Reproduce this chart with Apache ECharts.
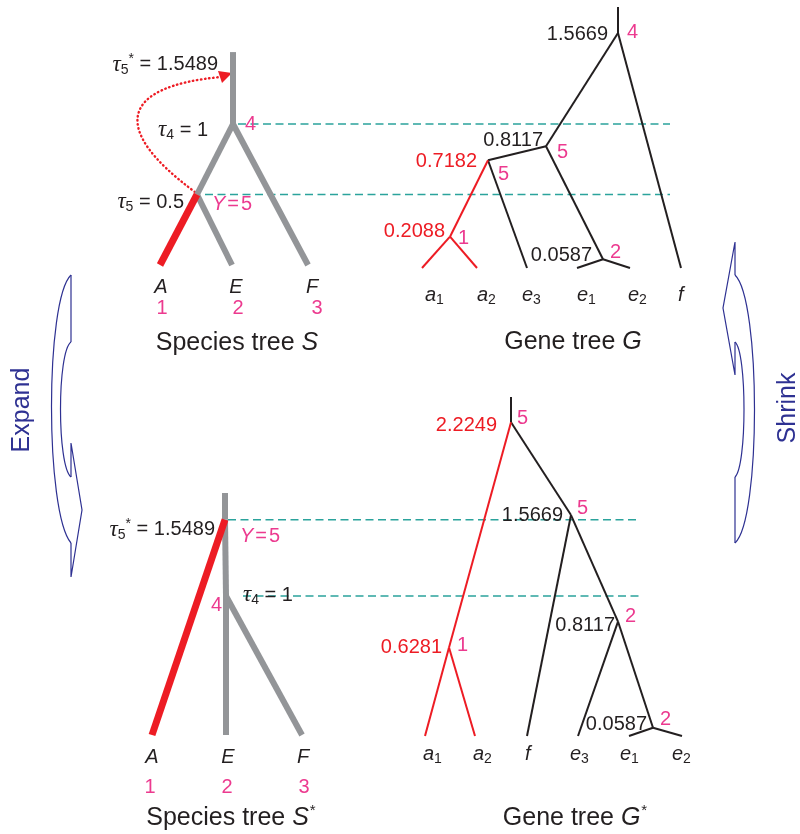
<!DOCTYPE html>
<html><head><meta charset="utf-8">
<script src="https://cdn.jsdelivr.net/npm/echarts@6/dist/echarts.min.js"></script>
<style>html,body{margin:0;padding:0;background:#fff}#c{width:800px;height:834px}</style>
</head><body><div id="c"></div>
<script>
// ======================= DATA =======================
// Species-tree divergence times
const tau5 = 0.5;
const tau4 = 1;
const tau5Star = 1.5489;

// Species tree S (top)
const speciesS_nodes  = ['n4', 'Y', 'A', 'E', 'F'];
const speciesS_parent = [null, 'n4', 'Y', 'Y', 'n4'];
const speciesS_pop    = [4, 5, 1, 2, 3];
const speciesS_tau    = [tau4, tau5, 0, 0, 0];

// Species tree S* (bottom)
const speciesS2_nodes  = ['Y', 'n4', 'A', 'E', 'F'];
const speciesS2_parent = [null, 'Y', 'Y', 'n4', 'n4'];
const speciesS2_pop    = [5, 4, 1, 2, 3];
const speciesS2_tau    = [tau5Star, tau4, 0, 0, 0];

// Gene tree G (top)
const geneG_nodes  = ['r', 'x', 'y', 'a', 'e', 'a1', 'a2', 'e3', 'e1', 'e2', 'f'];
const geneG_parent = [null, 'r', 'x', 'y', 'x', 'a', 'a', 'y', 'e', 'e', 'r'];
const geneG_height = [1.5669, 0.8117, 0.7182, 0.2088, 0.0587, 0, 0, 0, 0, 0, 0];
const geneG_pop    = [4, 5, 5, 1, 2, null, null, null, null, null, null];

// Gene tree G* (bottom)
const geneG2_nodes  = ['r', 'p', 'q', 's', 't', 'a1', 'a2', 'f', 'e3', 'e1', 'e2'];
const geneG2_parent = [null, 'r', 'r', 'q', 's', 'p', 'p', 'q', 's', 't', 't'];
const geneG2_height = [2.2249, 0.6281, 1.5669, 0.8117, 0.0587, 0, 0, 0, 0, 0, 0];
const geneG2_pop    = [5, 1, 5, 2, 2, null, null, null, null, null, null];

// Panel captions
const captions = [
  ['Species tree ', 'S', ''],
  ['Gene tree ', 'G', ''],
  ['Species tree ', 'S', '*'],
  ['Gene tree ', 'G', '*']
];
const arrowWords = ['Expand', 'Shrink'];

// ======================= LAYOUT / STYLE =======================
const C = {red:'#ed1c24', pink:'#ec3a8f', gray:'#939598', teal:'#2ba39c', black:'#231f20', blue:'#2e3192'};
const FONT = '"Liberation Sans", Arial, sans-serif';
const SERIF = '"Liberation Serif", "Times New Roman", serif';
const RICH = {
  n:  {fontFamily:FONT, fontSize:20, lineHeight:24},
  eq: {fontFamily:FONT, fontSize:20, lineHeight:24, padding:[0, 2, 0, 2]},
  i:  {fontFamily:FONT, fontSize:20, lineHeight:24, fontStyle:'italic'},
  t:  {fontFamily:SERIF, fontSize:23, lineHeight:24, fontStyle:'italic'},
  sub:{fontFamily:FONT, fontSize:14, lineHeight:14, padding:[11, 0, 0, 0]},
  sup:{fontFamily:FONT, fontSize:14, lineHeight:14, padding:[0, 0, 11, 0]},
  tn: {fontFamily:FONT, fontSize:25, lineHeight:30},
  ti: {fontFamily:FONT, fontSize:25, lineHeight:30, fontStyle:'italic'},
  ts: {fontFamily:FONT, fontSize:15, lineHeight:15, padding:[0, 0, 14, 1]}
};

// pixel placement of each panel's height axis: base = y of height 0, scale = px per unit
const PANELS = [
  {base:265, scale:141, maxH:1.85},
  {base:268, scale:150, maxH:1.78},
  {base:735, scale:139, maxH:1.80},
  {base:736, scale:141, maxH:2.45}
];

const LAYOUT_S = {
  grid:0, x:{n4:233, Y:197, A:160, E:232, F:308}, stemTop:1.51,
  tauOff:{n4:[-25, 6, 'right'], Y:[-13, 7.5, 'right']},
  popOff:{n4:[12, 0, 'left'], Y:[15, 10, 'left']},
  taxonDx:{A:1, E:4, F:4}, taxonDy:22, idDx:{A:2, E:6, F:9}, idDy:43,
  dashes:{n4:[238, 670], Y:[205, 670]},
  starOff:[-15, 12.5]
};
const LAYOUT_S2 = {
  grid:2, x:{Y:225, n4:226, A:152, E:226, F:302}, stemTop:1.741,
  tauOff:{Y:[-10, 10, 'right'], n4:[17, -1, 'left']},
  popOff:{Y:[15, 17, 'left'], n4:[-4, 9, 'right']},
  taxonDx:{A:0, E:2, F:1}, taxonDy:22, idDx:{A:-2, E:1, F:2}, idDy:52,
  dashes:{Y:[228, 637], n4:[243, 643]}
};
const LAYOUT_G = {
  grid:1, x:{r:618, x:546, y:488, a:450, e:603, a1:422, a2:477, e3:527, e1:577, e2:630, f:681}, stemTop:1.74,
  valOff:{r:[-10, 2], x:[-3, -6], y:[-11, 1], a:[-5, -5], e:[-11, -4]},
  popOff:{r:[9, 0], x:[11, 6], y:[10, 14], a:[8, 2], e:[7, -7]},
  tipX:{a1:425, a2:477, e3:522, e1:577, e2:628, f:678}, tipDy:27
};
const LAYOUT_G2 = {
  grid:3, x:{r:511, p:449, q:571, s:618, t:653, a1:425, a2:475, f:527, e3:578, e1:629, e2:682}, stemTop:2.404,
  valOff:{r:[-14, 3], q:[-8, 0], s:[-3, 3.5], p:[-7, 0], t:[-6, -3.7]},
  popOff:{r:[6, -4], q:[6, -7], s:[7, -4.6], p:[8, -2.4], t:[7, -8.7]},
  tipX:{a1:423, a2:473, f:525, e3:570, e1:620, e2:672}, tipDy:18
};
const CAPTION_POS = [[237, 343], [573, 342], [231, 818], [575, 818]];

// ======================= BUILDERS =======================
function tauText(pop, val, star) {
  return '{t|τ}{sub|' + pop + '}' + (star ? '{sup|*}' : '') + '{n| = ' + val + '}';
}
function tipText(name) {
  const m = name.match(/^([a-z])(\d*)$/);
  return '{i|' + m[1] + '}' + (m[2] ? '{sub|' + m[2] + '}' : '');
}

function speciesParts(nodes, parent, pop, tau, L, withStar) {
  const idx = {}; nodes.forEach((n, i) => idx[n] = i);
  const root = nodes[parent.indexOf(null)];
  const dashes = [], gray = [], red = [], texts = [];
  nodes.forEach((n, i) => {
    if (L.dashes[n]) dashes.push({x1:L.dashes[n][0], h1:tau[i], x2:L.dashes[n][1], h2:tau[i], color:C.teal, width:1.5, dash:[8, 4.5]});
  });
  gray.push({x1:L.x[root], h1:tau[idx[root]], x2:L.x[root], h2:L.stemTop, color:C.gray, width:6});
  nodes.forEach((n, i) => {
    const p = parent[i]; if (!p) return;
    const isA = n === 'A';
    (isA ? red : gray).push({x1:L.x[n], h1:tau[i], x2:L.x[p], h2:tau[idx[p]], color:isA ? C.red : C.gray, width:isA ? 7 : 6});
  });
  nodes.forEach((n, i) => {
    if (tau[i] > 0) {
      const o = L.tauOff[n];
      texts.push({x:L.x[n], h:tau[i], dx:o[0], dy:o[1], align:o[2], color:C.black, text:tauText(pop[i], tau[i], tau[i] === tau5Star)});
      const q = L.popOff[n];
      const ptxt = n.startsWith('n') ? '{n|' + pop[i] + '}' : '{i|' + n + '}{eq|=}{n|' + pop[i] + '}';
      texts.push({x:L.x[n], h:tau[i], dx:q[0], dy:q[1], align:q[2], color:C.pink, text:ptxt});
    } else {
      texts.push({x:L.x[n], h:0, dx:L.taxonDx[n], dy:L.taxonDy, align:'center', color:C.black, text:'{i|' + n + '}'});
      texts.push({x:L.x[n], h:0, dx:L.idDx[n], dy:L.idDy, align:'center', color:C.pink, text:'{n|' + pop[i] + '}'});
    }
  });
  if (withStar) {
    const yPop = pop[idx['Y']];
    texts.push({x:L.x[root], h:L.stemTop, dx:L.starOff[0], dy:L.starOff[1], align:'right', color:C.black, text:tauText(yPop, tau5Star, true)});
  }
  return {segs: dashes.concat(gray, red), texts};
}

function geneParts(nodes, parent, height, pop, L) {
  const idx = {}; nodes.forEach((n, i) => idx[n] = i);
  const anc = id => { const out = []; let c = id; while (c) { out.push(c); c = parent[idx[c]]; } return out; };
  const aTips = nodes.filter(n => /^a\d/.test(n));
  const mrca = anc(aTips[0]).find(a => aTips.every(t => anc(t).includes(a)));
  const inClade = n => anc(n).includes(mrca);
  const redLabel = new Set([mrca, parent[idx[mrca]]]);
  const root = nodes[parent.indexOf(null)];
  const black = [], red = [], texts = [];
  black.push({x1:L.x[root], h1:height[idx[root]], x2:L.x[root], h2:L.stemTop, color:C.black, width:2});
  nodes.forEach((n, i) => {
    const p = parent[i]; if (!p) return;
    const r = inClade(n);
    (r ? red : black).push({x1:L.x[n], h1:height[i], x2:L.x[p], h2:height[idx[p]], color:r ? C.red : C.black, width:2});
  });
  nodes.forEach((n, i) => {
    if (height[i] > 0) {
      const o = L.valOff[n], q = L.popOff[n];
      texts.push({x:L.x[n], h:height[i], dx:o[0], dy:o[1], align:'right', color:redLabel.has(n) ? C.red : C.black, text:'{n|' + height[i].toFixed(4) + '}'});
      texts.push({x:L.x[n], h:height[i], dx:q[0], dy:q[1], align:'left', color:C.pink, text:'{n|' + pop[i] + '}'});
    } else {
      texts.push({x:L.tipX[n], h:0, dx:0, dy:L.tipDy, align:'left', color:C.black, text:tipText(n)});
    }
  });
  return {segs: black.concat(red), texts};
}

function segSeries(gi, segs) {
  return {
    type:'custom', coordinateSystem:'cartesian2d', xAxisIndex:gi, yAxisIndex:gi,
    silent:true, clip:false, z:2, encode:{x:[0, 2], y:[1, 3]},
    data: segs.map(s => [s.x1, s.h1, s.x2, s.h2]),
    renderItem(params, api) {
      const s = segs[params.dataIndex];
      const a = api.coord([api.value(0), api.value(1)]);
      const b = api.coord([api.value(2), api.value(3)]);
      return {type:'line', shape:{x1:a[0], y1:a[1], x2:b[0], y2:b[1]},
        style:{stroke:s.color, lineWidth:s.width, lineDash:s.dash || null, lineCap:'butt', fill:null}};
    }
  };
}
function textSeries(gi, items) {
  return {
    type:'custom', coordinateSystem:'cartesian2d', xAxisIndex:gi, yAxisIndex:gi,
    silent:true, clip:false, z:5, encode:{x:0, y:1},
    data: items.map(t => [t.x, t.h]),
    renderItem(params, api) {
      const t = items[params.dataIndex];
      const p = api.coord([api.value(0), api.value(1)]);
      return {type:'text', x:p[0] + t.dx, y:p[1] + t.dy,
        style:{text:t.text, rich:RICH, fill:t.color, align:t.align, verticalAlign:'middle', font:'20px ' + FONT}};
    }
  };
}

const partS  = speciesParts(speciesS_nodes, speciesS_parent, speciesS_pop, speciesS_tau, LAYOUT_S, true);
const partS2 = speciesParts(speciesS2_nodes, speciesS2_parent, speciesS2_pop, speciesS2_tau, LAYOUT_S2, false);
const partG  = geneParts(geneG_nodes, geneG_parent, geneG_height, geneG_pop, LAYOUT_G);
const partG2 = geneParts(geneG2_nodes, geneG2_parent, geneG2_height, geneG2_pop, LAYOUT_G2);

const parts = [[partS, 0], [partG, 1], [partS2, 2], [partG2, 3]];
const series = [];
parts.forEach(([p, gi]) => { series.push(segSeries(gi, p.segs)); series.push(textSeries(gi, p.texts)); });

// ======================= DECORATIONS =======================
const blueStroke = {stroke:C.blue, lineWidth:1.2, fill:null};
const graphic = [
  // red dotted arrow in species tree S (τ5 moved up to τ5*)
  {type:'bezierCurve', silent:true, shape:{x1:195, y1:192, cpx1:108, cpy1:128, cpx2:122, cpy2:86, x2:221, y2:77},
   style:{stroke:C.red, lineWidth:2.4, lineDash:[0.5, 3.6], lineCap:'round', fill:null}},
  {type:'polygon', silent:true, shape:{points:[[232, 73], [218, 71], [222, 83]]}, style:{fill:C.red}},
  // Expand arrow (left, pointing down)
  {type:'polyline', silent:true, shape:{points:[[71, 275], [71, 342]]}, style:blueStroke},
  {type:'bezierCurve', silent:true, shape:{x1:71, y1:342, cpx1:57, cpy1:352, cpx2:57, cpy2:466, x2:71, y2:477}, style:blueStroke},
  {type:'polyline', silent:true, shape:{points:[[71, 477], [71, 443], [82, 510], [71, 577], [71, 543]]}, style:blueStroke},
  {type:'bezierCurve', silent:true, shape:{x1:71, y1:543, cpx1:45, cpy1:512, cpx2:45, cpy2:300, x2:71, y2:275}, style:blueStroke},
  // Shrink arrow (right, pointing up)
  {type:'polyline', silent:true, shape:{points:[[735, 543], [735, 477]]}, style:blueStroke},
  {type:'bezierCurve', silent:true, shape:{x1:735, y1:477, cpx1:747, cpy1:466, cpx2:747, cpy2:352, x2:735, y2:342}, style:blueStroke},
  {type:'polyline', silent:true, shape:{points:[[735, 342], [735, 375], [723, 308], [735, 242], [735, 275]]}, style:blueStroke},
  {type:'bezierCurve', silent:true, shape:{x1:735, y1:275, cpx1:761, cpy1:300, cpx2:761, cpy2:520, x2:735, y2:543}, style:blueStroke},
  {type:'text', silent:true, x:22.5, y:410, rotation:Math.PI / 2,
   style:{text:arrowWords[0], fill:C.blue, font:'25px ' + FONT, align:'center', verticalAlign:'middle'}},
  {type:'text', silent:true, x:788.5, y:408, rotation:Math.PI / 2,
   style:{text:arrowWords[1], fill:C.blue, font:'25px ' + FONT, align:'center', verticalAlign:'middle'}}
];
captions.forEach((c, k) => {
  graphic.push({type:'text', silent:true, x:CAPTION_POS[k][0], y:CAPTION_POS[k][1],
    style:{text:'{tn|' + c[0] + '}{ti|' + c[1] + '}' + (c[2] ? '{ts|' + c[2] + '}' : ''), rich:RICH,
      fill:C.black, align:'center', verticalAlign:'middle', font:'25px ' + FONT}});
});

// ======================= CHART =======================
const chart = echarts.init(document.getElementById('c'), null, {renderer:'canvas', width:800, height:834});
chart.setOption({
  animation:false,
  backgroundColor:'#ffffff',
  grid: PANELS.map(p => ({left:0, width:800, top:p.base - p.scale * p.maxH, height:p.scale * p.maxH, containLabel:false, outerBoundsMode:'none'})),
  xAxis: PANELS.map((p, i) => ({type:'value', gridIndex:i, min:0, max:800, show:false})),
  yAxis: PANELS.map((p, i) => ({type:'value', gridIndex:i, min:0, max:p.maxH, show:false})),
  series,
  graphic
});
</script></body></html>
